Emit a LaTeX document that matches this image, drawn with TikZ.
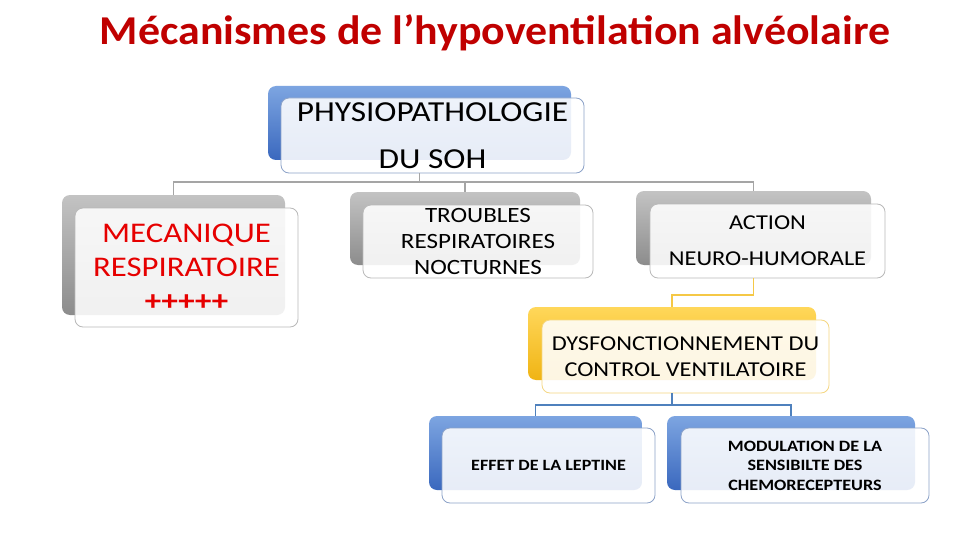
\documentclass[tikz,border=0pt]{standalone}
\usepackage{fontspec}
\setmainfont{Carlito}[FakeStretch=1.15]
\newfontfamily\titlefont{Carlito}[FakeStretch=1.07]
\definecolor{TitleRed}{RGB}{192, 0, 0}
\definecolor{TextRed}{RGB}{230, 0, 0}
\definecolor{BlueTop}{RGB}{125, 165, 225}
\definecolor{BlueBot}{RGB}{58, 104, 190}
\definecolor{BlueEdge}{RGB}{140, 162, 200}
\definecolor{BlueLine}{RGB}{79, 129, 189}
\definecolor{GrayTop}{RGB}{195, 195, 195}
\definecolor{GrayBot}{RGB}{140, 140, 140}
\definecolor{GrayEdge}{RGB}{185, 185, 185}
\definecolor{GrayLine}{RGB}{165, 165, 165}
\definecolor{GoldTop}{RGB}{255, 215, 90}
\definecolor{GoldBot}{RGB}{240, 180, 20}
\definecolor{GoldEdge}{RGB}{245, 215, 130}
\definecolor{GoldLine}{RGB}{245, 200, 70}

\begin{document}
\begin{tikzpicture}[
        x=1pt, y=-1pt,
        backbox/.style = {rounded corners=8pt, inner sep=0pt},
        frontbox/.style = {rounded corners=8pt, inner sep=0pt, align=center,
            draw, line width=0.8pt, fill=white, fill opacity=0.88, text opacity=1},
        blueback/.style = {top color=BlueTop, bottom color=BlueBot},
        grayback/.style = {top color=GrayTop, bottom color=GrayBot},
        goldback/.style = {top color=GoldTop, bottom color=GoldBot},
        link/.style = {line width=1.5pt}
    ]
    \useasboundingbox (0,0) rectangle (960,540);
    \fill[white] (0,0) rectangle (960,540);

    \node (title) at (495,44.5) [anchor=base, text=TitleRed, font=\titlefont\fontsize{41}{44}\selectfont\bfseries]
        {Mécanismes de l’hypoventilation alvéolaire};

    % top level
    \node (physB) at (419.5,123) [backbox, blueback, minimum width=303, minimum height=74] {};
    \node (physF) at (432.5,135.5) [frontbox, draw=BlueEdge, minimum width=303, minimum height=75,
        font=\fontsize{29}{47}\selectfont] {PHYSIOPATHOLOGIE\\DU SOH};

    % second level
    \node (mecaB) at (173.5,255) [backbox, grayback, minimum width=223, minimum height=120] {};
    \node (mecaF) at (186.5,267.5) [frontbox, draw=GrayEdge, minimum width=223, minimum height=119,
        text=TextRed, font=\fontsize{28.5}{34}\selectfont] {MECANIQUE\\RESPIRATOIRE\\\textbf{+++++}};

    \node (troubB) at (465,228.5) [backbox, grayback, minimum width=230, minimum height=73] {};
    \node (troubF) at (478,241.5) [frontbox, draw=GrayEdge, minimum width=230, minimum height=73,
        font=\fontsize{21.8}{26}\selectfont] {TROUBLES\\RESPIRATOIRES\\NOCTURNES};

    \node (actB) at (753.5,228) [backbox, grayback, minimum width=235, minimum height=74] {};
    \node (actF) at (767.5,241) [frontbox, draw=GrayEdge, minimum width=235, minimum height=74,
        font=\fontsize{21.2}{36}\selectfont] {ACTION\\NEURO-HUMORALE};

    % third level
    \node (dysfB) at (672,343.5) [backbox, goldback, minimum width=288, minimum height=73] {};
    \node (dysfF) at (685.5,356.5) [frontbox, draw=GoldEdge, minimum width=287, minimum height=73,
        font=\fontsize{21.2}{26}\selectfont] {DYSFONCTIONNEMENT DU\\CONTROL VENTILATOIRE};

    % fourth level
    \node (effB) at (535.5,453) [backbox, blueback, minimum width=213, minimum height=74] {};
    \node (effF) at (548.5,465.5) [frontbox, draw=BlueEdge, minimum width=213, minimum height=75,
        font=\fontsize{15.7}{19}\selectfont\bfseries] {EFFET DE LA LEPTINE};

    \node (modB) at (791,453) [backbox, blueback, minimum width=248, minimum height=74] {};
    \node (modF) at (805,465.5) [frontbox, draw=BlueEdge, minimum width=248, minimum height=75,
        font=\fontsize{15.8}{19.5}\selectfont\bfseries] {MODULATION DE LA\\SENSIBILTE DES\\CHEMORECEPTEURS};

    % connectors
    \coordinate (bus1) at (419.5,182);
    \coordinate (bus2) at (753.5,295);
    \coordinate (bus3) at (672,405);

    \draw[link, GrayLine] (physB |- physF.south) -- (bus1);
    \draw[link, GrayLine] (mecaB.north) |- (bus1) -| (actB.north);
    \draw[link, GrayLine] (troubB.north) -- (troubB.north |- bus1);

    \draw[link, GoldLine] (actB |- actF.south) -- (bus2) -| (dysfB.north);

    \draw[link, BlueLine] (dysfB |- dysfF.south) -- (bus3);
    \draw[link, BlueLine] (effB.north) |- (bus3) -| (modB.north);
\end{tikzpicture}
\end{document}
